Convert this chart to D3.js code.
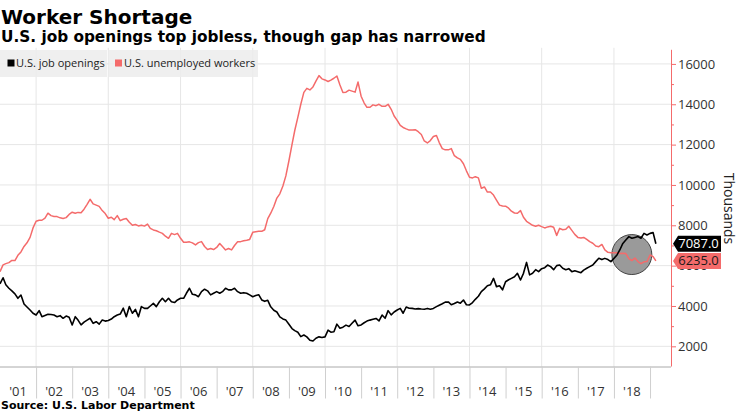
<!DOCTYPE html>
<html><head><meta charset="utf-8">
<script src="https://cdn.jsdelivr.net/npm/d3@7"></script>
<style>
body{margin:0;background:#fff;}
svg{display:block;}
</style></head>
<body>
<svg id="chart" width="740" height="416"></svg>
<script>
// ---- data (thousands), monthly Dec 2000 .. Feb 2019 ----
const firstMonth = "2000-12";
const jobOpenings = [5100,
 5400,5050,4880,4750,4600,4380,4545,4100,3950,3800,3640,3550,
 3770,3470,3530,3590,3580,3550,3470,3520,3390,3500,3440,3060,
 3470,3300,3060,3200,3300,3390,3140,3220,3100,3300,3250,3280,
 3350,3470,3550,3600,3890,3470,3970,3640,3830,3470,3970,3880,
 3880,4000,4130,3970,4210,4380,4210,4380,4210,4170,4300,4380,
 4380,4630,4880,4580,4550,4460,4710,4830,4750,4550,4630,4710,
 4630,4710,4880,4800,4800,4880,4710,4630,4660,4630,4550,4460,
 4520,4560,4300,4230,4280,3960,3790,3700,3460,3360,3300,3090,
 2880,2780,2700,2480,2560,2470,2300,2263,2400,2470,2440,2470,
 2800,2700,2720,3100,2900,2950,3050,2980,3140,3300,3020,3060,
 3170,3250,3300,3340,3380,3260,3550,3390,3770,3560,3700,3800,
 3880,3640,3950,3890,3880,3850,3870,3850,3840,3880,3840,3880,
 3970,4040,4110,4190,4200,4060,4120,4200,4140,4296,4060,4050,
 4170,4330,4480,4710,4850,5000,5050,5370,4960,5000,4800,5200,
 5300,5370,5450,5620,5290,5620,6160,5540,5620,5800,5700,5850,
 5900,6030,5950,5800,6000,6033,5870,5800,5850,5700,5750,5700,
 5650,5780,5870,5950,6030,6200,6364,6300,6360,6300,6200,6360,
 6530,6777,7100,7270,7440,7360,7400,7440,7360,7600,7520,7600,
 7636,7087];
const unemployed = [5700,
 6040,6100,6150,6260,6250,6510,6680,6950,7130,7400,7870,8200,
 8250,8250,8360,8600,8480,8440,8430,8370,8340,8380,8540,8650,
 8600,8640,8620,8800,9040,9290,9060,9000,8940,8730,8580,8350,
 8400,8280,8480,8230,8300,8340,8150,8000,8040,7970,8000,7960,
 8060,7850,7770,7730,7660,7600,7460,7355,7600,7540,7600,7355,
 7160,7160,7180,7130,7025,7140,7190,6950,6800,6850,6800,6900,
 7100,6950,6780,6850,6780,7000,7180,7190,7230,7260,7300,7650,
 7680,7700,7700,7780,8330,8600,8930,9350,9560,9950,10450,11200,
 12000,12700,13350,14000,14590,14790,14710,14860,15150,15420,15260,15206,
 15130,15200,15290,15400,14960,14580,14600,14700,14650,14600,15100,14400,
 14060,13850,13850,13970,13930,14000,13900,13900,14000,13750,13420,13200,
 12950,12850,12780,12720,12720,12740,12640,12500,12180,12080,12200,12400,
 12450,12100,11800,11740,11740,11800,11450,11340,11270,11050,10700,10380,
 10350,10410,10350,9834,9900,9650,9650,9500,9250,9000,8960,8950,
 8850,8700,8610,8594,8730,8400,8200,8100,8000,7950,8000,7933,
 7870,7920,7950,7900,7500,7850,7780,7800,7950,7750,7550,7400,
 7370,7400,7300,7190,7110,6970,6940,7050,6777,6660,6645,6645,
 6640,6600,6620,6600,6350,6250,6380,6200,6100,6190,6200,6529,
 6450,6235];
const yTicks = [2000,4000,6000,8000,10000,12000,14000,16000];
const yMinorTicks = [3000,5000,7000,9000,11000,13000,15000];
const yearLabels = ["'01","'02","'03","'04","'05","'06","'07","'08","'09","'10","'11","'12","'13","'14","'15","'16","'17","'18"];
const seriesNames = ["U.S. job openings","U.S. unemployed workers"];
const lastLabels = ["7087.0","6235.0"];
const highlight = {date:"2018-07", value:6550};

// ---- setup ----
const RED = "#f46b6b";
const svg = d3.select("#chart");
const W = 671, TOP = 49.8, BOT = 366.5;
const parseM = d3.timeParse("%Y-%m");
const x = d3.scaleTime().domain([new Date(2001,0,1), new Date(2019,7,1)]).range([0, W]);
const y = d3.scaleLinear().domain([1000, 16700]).range([BOT, TOP]);
// monthly values plotted at month end
const start = parseM(firstMonth);
const dateOf = i => d3.timeMonth.offset(start, i + 1);

svg.append("rect").attr("width",740).attr("height",416).attr("fill","#fff");

const defs = svg.append("defs");
defs.append("clipPath").attr("id","plotclip").append("rect")
  .attr("x",0).attr("y",TOP).attr("width",W).attr("height",BOT-TOP);

// gridlines
const g = svg.append("g");
g.selectAll("line.h").data(yTicks).join("line")
  .attr("x1",0).attr("x2",W).attr("y1",d=>y(d)).attr("y2",d=>y(d))
  .attr("stroke","#e6e6e6").attr("stroke-width",1);
const gridYears = d3.range(2002, 2019, 2).map(yr => new Date(yr,0,1));
g.selectAll("line.v").data(gridYears).join("line")
  .attr("x1",d=>x(d)).attr("x2",d=>x(d)).attr("y1",TOP-2).attr("y2",BOT)
  .attr("stroke","#e6e6e6").attr("stroke-width",1);

// legend
const leg = svg.append("g");
leg.append("rect").attr("x",0).attr("y",50).attr("width",107).attr("height",27).attr("fill","#ececec").attr("opacity",0.85);
leg.append("rect").attr("x",109).attr("y",50).attr("width",149).attr("height",27).attr("fill","#ececec").attr("opacity",0.85);
leg.append("rect").attr("x",7.5).attr("y",59.5).attr("width",7).attr("height",7).attr("fill","#000");
leg.append("rect").attr("x",115).attr("y",59.5).attr("width",7).attr("height",7).attr("fill",RED);
leg.append("text").attr("x",16).attr("y",67).text(seriesNames[0])
  .attr("font-family","Open Sans").attr("font-size",11).attr("fill","#222");
leg.append("text").attr("x",124).attr("y",67).text(seriesNames[1])
  .attr("font-family","Open Sans").attr("font-size",11).attr("fill","#222");

// highlight circle
svg.append("circle")
  .attr("cx", x(parseM(highlight.date)))
  .attr("cy", y(highlight.value)).attr("r",20)
  .attr("fill","#9a9a9a").attr("stroke","#444").attr("stroke-width",1);

// lines
const line = d3.line().x((d,i)=>x(dateOf(i))).y(d=>y(d));
const lines = svg.append("g").attr("clip-path","url(#plotclip)");
lines.append("path").datum(unemployed).attr("d",line)
  .attr("fill","none").attr("stroke",RED).attr("stroke-width",1.5).attr("stroke-linejoin","round");
lines.append("path").datum(jobOpenings).attr("d",line)
  .attr("fill","none").attr("stroke","#000").attr("stroke-width",1.6).attr("stroke-linejoin","round");

// x axis
const xAxisG = svg.append("g").attr("transform",`translate(0,${BOT})`);
xAxisG.call(d3.axisBottom(x).tickValues(d3.range(2002,2020).map(yr=>new Date(yr,0,1)))
  .tickSize(32).tickFormat(""));
xAxisG.select(".domain").attr("stroke","#aaa").attr("d",`M0,0.5H${W}`);
xAxisG.selectAll(".tick line").attr("stroke","#cfcfcf");
svg.append("g").selectAll("text").data(yearLabels).join("text")
  .attr("x",(d,i)=>x(new Date(2001+i,6,2)))
  .attr("y",396).attr("text-anchor","middle")
  .attr("font-family","Open Sans").attr("font-size",13).attr("fill","#333")
  .text(d=>d);

// right y axis
const yAxisG = svg.append("g").attr("transform",`translate(${W},0)`);
yAxisG.call(d3.axisRight(y).tickValues(yTicks).tickSize(5).tickPadding(2)
  .tickFormat(d3.format("d")));
yAxisG.select(".domain").attr("stroke",RED).attr("d",`M0.5,${TOP}V${BOT}`);
yAxisG.selectAll(".tick line").attr("stroke",RED);
yAxisG.selectAll(".tick text").attr("font-family","Open Sans").attr("font-size",13).attr("fill","#333");
const minorG = svg.append("g").attr("transform",`translate(${W},0)`);
minorG.call(d3.axisRight(y).tickValues(yMinorTicks).tickSize(3).tickFormat(""));
minorG.select(".domain").remove();
minorG.selectAll(".tick line").attr("stroke",RED);

// axis title
svg.append("text").attr("transform","translate(724,208.5) rotate(90)")
  .attr("text-anchor","middle").attr("font-family","Open Sans").attr("font-size",14).attr("fill","#222")
  .text("Thousands");

// last value labels (as in the reference, the red one sits over the 6000 tick label)
const lastVals = [jobOpenings[jobOpenings.length-1], unemployed[unemployed.length-1]];
const labFill = ["#000", RED], labText = ["#fff", "#1a1a1a"];
lastVals.forEach((v,k)=>{
  const yc = y(v), x0 = W+2, h = 8;
  svg.append("path")
    .attr("d",`M${x0},${yc} L${x0+5},${yc-h} L721,${yc-h} L721,${yc+h} L${x0+5},${yc+h} Z`)
    .attr("fill",labFill[k]);
  svg.append("text").attr("x",698.5).attr("y",yc+4.5).attr("text-anchor","middle")
    .attr("font-family","Open Sans").attr("font-size",13).attr("fill",labText[k])
    .text(lastLabels[k]);
});

// titles
svg.append("text").attr("x",1).attr("y",23.5).text("Worker Shortage")
  .attr("font-family","DejaVu Sans").attr("font-weight","bold").attr("font-size",20).attr("fill","#000");
svg.append("text").attr("x",1).attr("y",41.5).text("U.S. job openings top jobless, though gap has narrowed")
  .attr("font-family","DejaVu Sans").attr("font-weight","bold").attr("font-size",15.3).attr("fill","#000");
svg.append("text").attr("x",1).attr("y",408.5).text("Source: U.S. Labor Department")
  .attr("font-family","DejaVu Sans").attr("font-weight","bold").attr("font-size",11).attr("fill","#000");
</script>
</body></html>
